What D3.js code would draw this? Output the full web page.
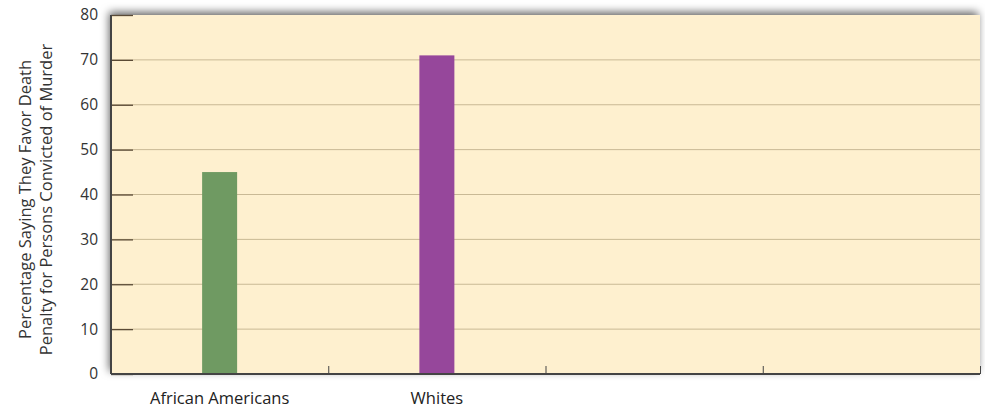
<!DOCTYPE html>
<html><head><meta charset="utf-8">
<script src="https://cdn.jsdelivr.net/npm/d3@7"></script>
<style>body{margin:0;background:#fff}svg{display:block}</style>
</head><body>
<script>
const categories = ["African Americans", "Whites", "", " "];
const values = [45, 71, null, null];
const barColors = ["#6f9a62", "#96479b", null, null];
const yTicks = [0, 10, 20, 30, 40, 50, 60, 70, 80];

const W = 985, H = 411;
const m = {left: 111, right: 5, top: 15, bottom: 37};
const iw = W - m.left - m.right, ih = H - m.top - m.bottom;
const font = "'Open Sans', sans-serif";

const svg = d3.select("body").append("svg").attr("width", W).attr("height", H);
const defs = svg.append("defs");
const f = defs.append("filter").attr("id", "sh").attr("x", "-5%").attr("y", "-10%").attr("width", "110%").attr("height", "125%");
f.append("feDropShadow").attr("dx", -2).attr("dy", -3).attr("stdDeviation", 4).attr("flood-color", "#000").attr("flood-opacity", 0.6);

const x = d3.scaleBand().domain(categories).range([0, iw]);
const y = d3.scaleLinear().domain([0, 80]).range([ih, 0]);

const g = svg.append("g").attr("transform", `translate(${m.left},${m.top})`);
g.append("rect").attr("width", iw).attr("height", ih).attr("fill", "#fef0cf").attr("filter", "url(#sh)");

// gridlines
g.append("g").selectAll("line").data(yTicks.filter(d => d > 0 && d < 80)).join("line")
  .attr("x1", 0).attr("x2", iw).attr("y1", d => y(d)).attr("y2", d => y(d))
  .attr("stroke", "#c9b995").attr("stroke-width", 1);

// bars
const bw = 35;
g.append("g").selectAll("rect").data(categories.map((c, i) => ({c, v: values[i], col: barColors[i]})).filter(d => d.v != null))
  .join("rect")
  .attr("x", d => x(d.c) + x.bandwidth() / 2 - bw / 2)
  .attr("width", bw)
  .attr("y", d => y(d.v))
  .attr("height", d => ih - y(d.v))
  .attr("fill", d => d.col);

// y axis
const ya = d3.axisLeft(y).tickValues(yTicks).tickSize(-22).tickPadding(13);
const yg = g.append("g").call(ya);
yg.select(".domain").remove();
yg.selectAll(".tick line").attr("stroke", "#5a4a35").attr("stroke-width", 1.3);
yg.selectAll(".tick text").attr("font-family", font).attr("font-size", 15.5).attr("fill", "#333");
g.append("line").attr("x1", 0).attr("x2", 0).attr("y1", 0).attr("y2", ih).attr("stroke", "#444").attr("stroke-width", 2);

// x axis
const xa = d3.axisBottom(d3.scaleLinear().domain([0, 4]).range([0, iw])).tickValues([0, 1, 2, 3, 4]).tickSize(-8).tickFormat("");
const xg = g.append("g").attr("transform", `translate(0,${ih})`).call(xa);
xg.select(".domain").remove();
xg.selectAll(".tick line").attr("stroke", "#444");
g.append("line").attr("x1", 0).attr("x2", iw).attr("y1", ih).attr("y2", ih).attr("stroke", "#444").attr("stroke-width", 2);
g.append("g").selectAll("text").data(categories).join("text")
  .attr("x", d => x(d) + x.bandwidth() / 2)
  .attr("y", ih + 30)
  .attr("text-anchor", "middle")
  .attr("font-family", font).attr("font-size", 16.5).attr("fill", "#222")
  .text(d => d.trim());

// y label
const yl = svg.append("text").attr("transform", `translate(0,${m.top + ih / 2 + 5}) rotate(-90)`)
  .attr("text-anchor", "middle").attr("font-family", font).attr("font-size", 16.5).attr("fill", "#333");
yl.append("tspan").attr("x", 0).attr("y", 31).text("Percentage Saying They Favor Death");
yl.append("tspan").attr("x", 0).attr("y", 52).text("Penalty for Persons Convicted of Murder");
</script>
</body></html>
